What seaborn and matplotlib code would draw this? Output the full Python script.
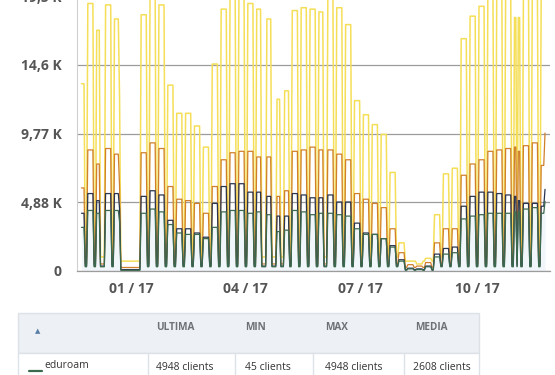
import matplotlib
matplotlib.use("Agg")
import matplotlib.pyplot as plt
import matplotlib.dates as mdates
from matplotlib.patches import Rectangle
import seaborn as sns
import pandas as pd
import numpy as np

# ---- data (values in thousands of clients) ----
work_start = ["2016-11-23","2016-11-28","2016-12-05","2016-12-12","2016-12-19","2016-12-23",
              "2017-01-09","2017-01-16","2017-01-23","2017-01-30","2017-02-06","2017-02-13",
              "2017-02-20","2017-02-27","2017-03-06","2017-03-13","2017-03-20","2017-03-27",
              "2017-04-03","2017-04-10","2017-04-18","2017-04-26","2017-05-02","2017-05-08",
              "2017-05-15","2017-05-22","2017-05-29","2017-06-05","2017-06-12","2017-06-19",
              "2017-06-26","2017-07-03","2017-07-10","2017-07-17","2017-07-24","2017-07-31",
              "2017-08-07","2017-08-14","2017-08-21","2017-08-28","2017-09-04","2017-09-11",
              "2017-09-18","2017-09-25","2017-10-02","2017-10-09","2017-10-16","2017-10-23",
              "2017-10-30","2017-11-02","2017-11-06","2017-11-13","2017-11-20","2017-11-23"]
work_end = ["2016-11-25","2016-12-02","2016-12-07","2016-12-16","2016-12-22","2016-12-23",
            "2017-01-13","2017-01-20","2017-01-27","2017-02-03","2017-02-10","2017-02-17",
            "2017-02-24","2017-03-03","2017-03-10","2017-03-17","2017-03-24","2017-03-31",
            "2017-04-07","2017-04-13","2017-04-21","2017-04-28","2017-05-05","2017-05-12",
            "2017-05-19","2017-05-26","2017-06-01","2017-06-09","2017-06-16","2017-06-23",
            "2017-06-30","2017-07-07","2017-07-14","2017-07-21","2017-07-28","2017-08-04",
            "2017-08-11","2017-08-18","2017-08-25","2017-09-01","2017-09-08","2017-09-15",
            "2017-09-22","2017-09-29","2017-10-06","2017-10-13","2017-10-20","2017-10-27",
            "2017-10-31","2017-11-03","2017-11-10","2017-11-17","2017-11-22","2017-11-23"]
yellow_k = [13.3,19.0,17.1,18.9,17.9,12.3, 18.2,19.9,18.9,13.2,11.2,11.2, 10.3,8.8,14.7,18.6,19.9,19.9,
            19.0,18.6,17.9,12.2,12.8,18.5, 18.7,18.6,18.4,19.5,18.7,17.5, 12.1,11.1,10.4,9.7,7.0,2.0,
            0.7,0.5,0.9,4.0,6.9,7.3, 16.5,18.1,18.8,19.9,19.9,19.9, 18.0,18.0,19.9,19.9,19.9,19.9]
orange_k = [5.9,8.6,7.6,8.7,8.3,6.0, 8.4,9.1,8.7,6.0,5.1,5.0, 4.8,4.1,6.0,7.9,8.4,8.5,
            8.5,8.1,8.1,5.3,5.7,8.5, 8.6,8.8,8.6,8.6,8.3,7.9, 5.5,5.1,4.8,4.5,3.0,1.3,
            0.45,0.35,0.6,2.0,3.0,3.0, 6.8,7.6,7.9,8.5,8.6,8.7, 8.8,8.5,8.9,9.1,7.5,9.8]
navy_k = [4.1,5.5,5.0,5.5,5.5,4.4, 5.3,5.7,5.4,3.6,3.0,3.0, 2.7,2.4,4.8,6.0,6.2,6.2,
          5.6,5.6,5.3,3.9,3.9,5.5, 5.4,5.2,5.2,5.4,4.9,4.9, 3.4,2.7,2.6,2.3,1.8,0.8,
          0.2,0.15,0.35,1.2,1.6,1.7, 4.6,5.3,5.6,5.6,5.5,5.4, 5.3,5.0,4.8,4.8,4.6,5.8]
green_k = [3.1,4.3,4.1,4.3,4.3,3.5, 4.1,4.4,4.2,3.3,2.7,2.6, 2.6,2.3,3.1,4.2,4.3,4.3,
           4.1,4.2,4.0,2.8,2.9,4.3, 4.2,4.0,4.1,4.1,4.0,3.9, 3.0,2.6,2.6,2.3,1.7,0.7,
           0.15,0.1,0.3,1.0,1.2,1.3, 3.7,3.9,4.0,4.1,4.1,4.1, 4.2,4.2,4.4,4.5,4.1,4.948]
# levels on weekends / holidays (yellow, orange, navy, green)
weekend_low = [1.0, 0.5, 0.35, 0.3]
holiday_low = [0.7, 0.25, 0.1, 0.05]
holiday_start = ["2016-12-24", "2017-08-05"]
holiday_end = ["2017-01-08", "2017-08-27"]

series_names = ["yellow", "orange", "navy", "green"]
series_colors = ["#f5df58", "#d0802c", "#2a3650", "#3c6a4e"]

y_ticks = [0, 4883, 9766, 14649, 19532]
y_labels = ["0", "4,88 K", "9,77 K", "14,6 K", "19,5 K"]
x_ticks = ["2017-01-01", "2017-04-01", "2017-07-01", "2017-10-01"]
x_labels = ["01 / 17", "04 / 17", "07 / 17", "10 / 17"]

table_cols = ["ULTIMA", "MIN", "MAX", "MEDIA"]
table_row = ["eduroam", "4948 clients", "45 clients", "4948 clients", "2608 clients"]

# ---- build daily series from the read values ----
dates = pd.date_range("2016-11-23", "2017-11-23", freq="D")
ws = pd.to_datetime(work_start); we = pd.to_datetime(work_end)
hs = pd.to_datetime(holiday_start); he = pd.to_datetime(holiday_end)
levels = [yellow_k, orange_k, navy_k, green_k]
rows = []
for d in dates:
    vals = None
    for i in range(len(ws)):
        if ws[i] <= d <= we[i]:
            vals = [lv[i] for lv in levels]
            break
    if vals is None:
        vals = weekend_low
        for j in range(len(hs)):
            if hs[j] <= d <= he[j]:
                vals = holiday_low
    for name, v in zip(series_names, vals):
        rows.append({"date": d, "series": name, "value": v * 1000})
df = pd.DataFrame(rows)

# ---- figure ----
sns.set_theme(style="white")
plt.rcParams["font.family"] = ["Open Sans", "DejaVu Sans"]

fig = plt.figure(figsize=(5.55, 3.75), dpi=100)
L, R, B, T = 77, 550, 271, -4
ax = fig.add_axes([L / 555, 1 - B / 375, (R - L) / 555, (B - T) / 375])

green_df = df[df.series == "green"]
ax.fill_between(green_df["date"], 0, green_df["value"], color="#e4eef7", alpha=0.5, lw=0, zorder=1)

for name, col in zip(series_names, series_colors):
    sub = df[df.series == name]
    lw = 1.1 if name == "yellow" else 0.9
    sns.lineplot(data=sub, x="date", y="value", color=col, lw=lw, ax=ax, zorder=3)

ax.set_xlim(mdates.date2num(pd.Timestamp("2017-01-01")) - (131 - L) / 1.27,
            mdates.date2num(pd.Timestamp("2017-01-01")) + (R - 131) / 1.27)
ax.set_ylim(0, 19532)
ax.set_yticks(y_ticks)
ax.set_yticklabels(y_labels)
ax.set_xticks([mdates.date2num(pd.Timestamp(t)) for t in x_ticks])
ax.set_xticklabels(x_labels)
ax.set_xlabel(""); ax.set_ylabel("")
ax.tick_params(axis="y", length=0, pad=11, labelsize=10, labelcolor="#555555")
ax.tick_params(axis="x", length=0, pad=8, labelsize=10, labelcolor="#555555")
for lab in ax.get_xticklabels() + ax.get_yticklabels():
    lab.set_fontweight("bold")
ax.yaxis.grid(True, color="#9c9c9c", lw=0.9, zorder=2)
ax.xaxis.grid(False)
for s in ["top", "right"]:
    ax.spines[s].set_visible(False)
ax.spines["left"].set_color("#cfcfcf"); ax.spines["left"].set_linewidth(0.8)
ax.spines["bottom"].set_color("#9c9c9c"); ax.spines["bottom"].set_linewidth(0.9)
ax.set_axisbelow(True)

# ---- table below ----
tb = fig.add_axes([0, 0, 1, 1])
tb.set_xlim(0, 555); tb.set_ylim(375, 0); tb.axis("off")
tb.add_patch(Rectangle((18, 313), 461, 40, facecolor="#edf0f4", edgecolor="#dde2e8", lw=1))
tb.add_patch(Rectangle((18, 353), 461, 40, facecolor="white", edgecolor="#dde2e8", lw=1))
for xs in [148, 235, 313, 404]:
    tb.plot([xs, xs], [353, 376], color="#dde2e8", lw=1)
tb.text(38, 331, "▲", fontsize=5, color="#5a7ea6", ha="center", va="center", family=["DejaVu Sans"])
col_x = [156, 245, 325, 415]
for x, t in zip(col_x, table_cols):
    tb.text(x, 327, t, fontsize=7.2, fontweight="bold", color="#6d7178", ha="left", va="center")
tb.plot([29, 42], [371, 371], color=series_colors[3], lw=1.6)
tb.text(44, 366, table_row[0], fontsize=7.5, color="#333333", ha="left", va="center")
for x, t in zip([156, 245, 325, 413], table_row[1:]):
    tb.text(x, 367, t, fontsize=7.5, color="#333333", ha="left", va="center")

fig.savefig("out.png", dpi=100)
